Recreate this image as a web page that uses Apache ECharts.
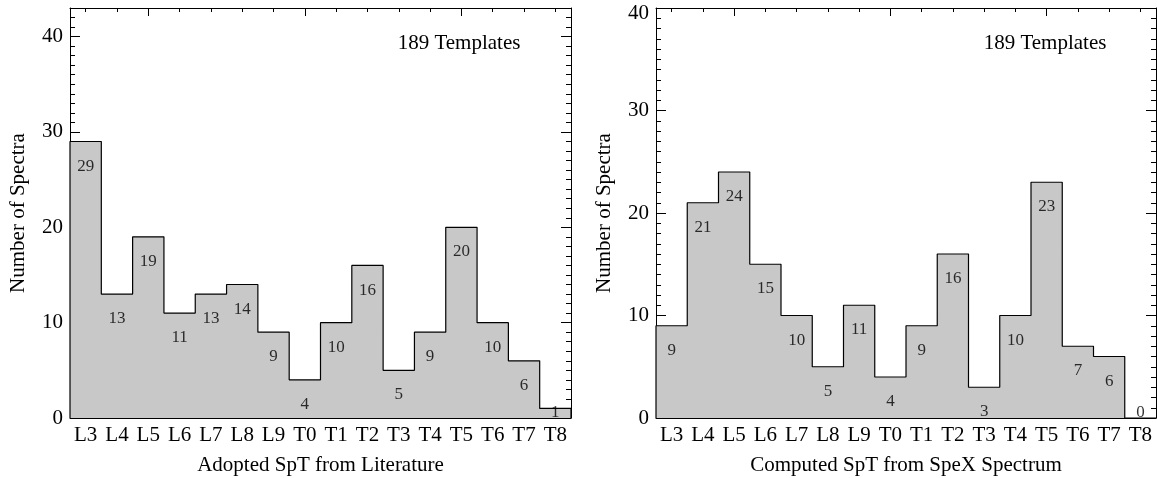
<!DOCTYPE html>
<html>
<head>
<meta charset="utf-8">
<script src="https://cdn.jsdelivr.net/npm/echarts@6/dist/echarts.min.js"></script>
<style>
html,body{margin:0;padding:0;background:#fff;}
#chart{width:1157px;height:478px;}
</style>
</head>
<body>
<div id="chart"></div>
<script>
// ---- data ----
const categories = ['L3','L4','L5','L6','L7','L8','L9','T0','T1','T2','T3','T4','T5','T6','T7','T8'];
const literatureCounts = [29,13,19,11,13,14,9,4,10,16,5,9,20,10,6,1];
const spexCounts = [9,21,24,15,10,5,11,4,9,16,3,10,23,7,6,0];
const majorTickCategories = ['L5','T0','T5'];
const yMaxLiterature = 43;
const yMaxSpex = 40;
const yTickLabels = [0,10,20,30,40];
const noteText = '189 Templates';
const xTitles = ['Adopted SpT from Literature','Computed SpT from SpeX Spectrum'];
const yTitle = 'Number of Spectra';

// ---- styling / layout ----
const FONT = '"Liberation Serif", "Times New Roman", serif';
const FILL = '#c8c8c8';
const INK = '#000';
const grids = [
  {left:70, top:8, width:501, height:410},
  {left:656, top:8, width:500, height:410}
];

const option = {
  animation:false,
  backgroundColor:'#fff',
  grid:[], xAxis:[], yAxis:[], series:[], graphic:[]
};

function addPanel(gi, counts, yMax, xTitle, shiftTopLabel){
  option.grid.push(Object.assign({containLabel:false, outerBoundsMode:'none'}, grids[gi]));
  // bottom category axis (labels)
  option.xAxis.push({
    gridIndex:gi, type:'category', position:'bottom', data:categories, boundaryGap:true, z:5,
    axisLine:{show:true, onZero:false, lineStyle:{color:INK, width:1}},
    axisTick:{show:false},
    axisLabel:{interval:0, margin:7, color:INK, fontFamily:FONT, fontSize:21},
    splitLine:{show:false},
    name:xTitle, nameLocation:'middle', nameGap:37,
    nameTextStyle:{color:INK, fontFamily:FONT, fontSize:21}
  });
  // top category axis: minor ticks at every bin
  option.xAxis.push({
    gridIndex:gi, type:'category', position:'top', data:categories, boundaryGap:true,
    axisLine:{show:true, onZero:false, lineStyle:{color:INK, width:1}},
    axisTick:{show:true, inside:true, alignWithLabel:true, interval:0, length:4, lineStyle:{color:INK}},
    axisLabel:{show:false, interval:0}, splitLine:{show:false}
  });
  // top category axis: major ticks
  option.xAxis.push({
    gridIndex:gi, type:'category', position:'top', data:categories, boundaryGap:true,
    axisLine:{show:false, onZero:false},
    axisTick:{show:true, inside:true, alignWithLabel:true, length:8, lineStyle:{color:INK},
      interval:function(idx, val){ return majorTickCategories.indexOf(val) >= 0; }},
    axisLabel:{show:false, interval:0}, splitLine:{show:false}
  });
  // hidden value axis for bin edges
  const xv = option.xAxis.length;
  option.xAxis.push({gridIndex:gi, type:'value', position:'bottom', min:0, max:categories.length, show:false,
    axisLine:{onZero:false}});

  const yl = option.yAxis.length;
  // left minor
  option.yAxis.push({
    gridIndex:gi, type:'value', position:'left', min:0, max:yMax, interval:1,
    axisLine:{show:true, onZero:false, lineStyle:{color:INK, width:1}},
    axisTick:{show:true, inside:true, length:5, lineStyle:{color:INK}},
    axisLabel:{show:false}, splitLine:{show:false}
  });
  // left major with labels
  option.yAxis.push({
    gridIndex:gi, type:'value', position:'left', min:0, max:yMax, interval:10,
    axisLine:{show:false, onZero:false},
    axisTick:{show:true, inside:true, length:10, lineStyle:{color:INK}},
    axisLabel:{show:true, showMaxLabel: yTickLabels.indexOf(yMax) >= 0, margin:7, color:INK, fontFamily:FONT, fontSize:21,
      formatter:function(v){
        if (yTickLabels.indexOf(v) < 0) return '';
        if (shiftTopLabel && v === yMax) return '{t|' + v + '}';
        return String(v);
      },
      rich:{t:{fontFamily:FONT, fontSize:21, color:INK, padding:[11,0,0,0]}}
    },
    splitLine:{show:false},
    name:yTitle, nameLocation:'middle', nameGap:41,
    nameTextStyle:{color:INK, fontFamily:FONT, fontSize:21}
  });
  // right minor
  option.yAxis.push({
    gridIndex:gi, type:'value', position:'right', min:0, max:yMax, interval:1,
    axisLine:{show:true, onZero:false, lineStyle:{color:INK, width:1}},
    axisTick:{show:true, inside:true, length:5, lineStyle:{color:INK}},
    axisLabel:{show:false}, splitLine:{show:false}
  });
  // right major
  option.yAxis.push({
    gridIndex:gi, type:'value', position:'right', min:0, max:yMax, interval:10,
    axisLine:{show:false, onZero:false},
    axisTick:{show:true, inside:true, length:10, lineStyle:{color:INK}},
    axisLabel:{show:false}, splitLine:{show:false}
  });

  // filled histogram with outline (step line + area)
  const n = counts.length;
  const stepData = [[0,0]].concat(counts.map((v,i)=>[i,v])).concat([[n, counts[n-1]],[n,0]]);
  option.series.push({
    type:'line', xAxisIndex:xv, yAxisIndex:yl, data:stepData, step:'end', symbol:'none',
    lineStyle:{color:INK, width:1.2}, areaStyle:{color:FILL, opacity:1, origin:'start'},
    silent:true, z:3
  });
  // count labels inside bins
  option.series.push({
    type:'scatter', xAxisIndex:xv, yAxisIndex:yl, symbolSize:0, silent:true, z:4,
    data:counts.map((v,i)=>({value:[i+0.5, Math.max(v - 0.06*yMax, 0.57)], label:{formatter:String(v)}})),
    label:{show:true, position:'inside', color:INK, fontFamily:FONT, fontSize:17}
  });
  // note
  option.graphic.push({
    type:'text', x:grids[gi].left + 389, y:43, silent:true,
    style:{text:noteText, font:'21px ' + FONT, fill:INK, align:'center', verticalAlign:'middle'}
  });
}

addPanel(0, literatureCounts, yMaxLiterature, xTitles[0], false);
addPanel(1, spexCounts, yMaxSpex, xTitles[1], true);

const chart = echarts.init(document.getElementById('chart'), null, {renderer:'canvas'});
chart.setOption(option);
</script>
</body>
</html>
